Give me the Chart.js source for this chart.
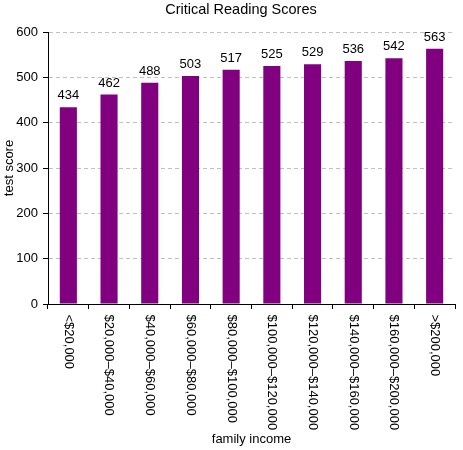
<!DOCTYPE html>
<html><head><meta charset="utf-8">
<script src="https://cdn.jsdelivr.net/npm/chart.js@4.4.1/dist/chart.umd.min.js"></script>
<style>html,body{margin:0;padding:0;background:#fff;} #wrap{width:463px;height:450px;}</style>
</head><body>
<div id="wrap"><canvas id="c" width="463" height="450"></canvas></div>
<script>
const categories = ['<$20,000','$20,000–$40,000','$40,000–$60,000','$60,000–$80,000','$80,000–$100,000','$100,000–$120,000','$120,000–$140,000','$140,000–$160,000','$160,000–$200,000','>$200,000'];
const scores = [434,462,488,503,517,525,529,536,542,563];
const yTicks = [0,100,200,300,400,500,600];
const chartTitle = 'Critical Reading Scores';
const xTitle = 'family income';
const yTitle = 'test score';

const FAMILY = '"Liberation Sans", Arial, sans-serif';
const font13 = {family: FAMILY, size: 13, weight: 'normal'};

const labelPlugin = {
  id: 'customLabels',
  afterDraw(chart) {
    const ctx = chart.ctx;
    const xs = chart.scales.x;
    const meta = chart.getDatasetMeta(0);
    ctx.save();
    ctx.fillStyle = '#000';
    // chart title
    ctx.font = '14.5px ' + FAMILY;
    ctx.textAlign = 'center';
    ctx.textBaseline = 'middle';
    ctx.fillText(chartTitle, 241, 10);
    // value labels
    ctx.font = '13px ' + FAMILY;
    ctx.textAlign = 'center';
    ctx.textBaseline = 'alphabetic';
    meta.data.forEach((bar, i) => {
      ctx.fillText(String(scores[i]), bar.x, bar.y - 8);
    });
    // rotated category labels
    ctx.textAlign = 'left';
    ctx.textBaseline = 'middle';
    categories.forEach((c, i) => {
      const x = xs.getPixelForValue(i);
      ctx.save();
      ctx.translate(x, xs.top + 10.5);
      ctx.rotate(Math.PI / 2);
      ctx.fillText(c, 0, 0);
      ctx.restore();
    });
    ctx.restore();
  }
};

new Chart(document.getElementById('c'), {
  type: 'bar',
  data: {
    labels: categories,
    datasets: [{
      data: scores,
      backgroundColor: '#800080',
      borderWidth: 0,
      inflateAmount: 0,
      barPercentage: 0.42,
      categoryPercentage: 1.0
    }]
  },
  options: {
    responsive: false,
    animation: false,
    devicePixelRatio: 1,
    layout: {padding: {left: 0, right: 8, top: 32, bottom: 0}},
    plugins: {
      legend: {display: false},
      tooltip: {enabled: false},
      title: {display: false}
    },
    scales: {
      x: {
        type: 'category',
        offset: true,
        afterFit: s => { s.height = 146; },
        ticks: {display: false},
        grid: {display: true, drawOnChartArea: false, drawTicks: true, tickLength: 5, tickColor: '#000', offset: true},
        border: {display: true, color: '#000', width: 1},
        title: {display: true, text: xTitle, color: '#000', font: font13, padding: {top: 0, bottom: 3}}
      },
      y: {
        min: yTicks[0],
        max: yTicks[yTicks.length - 1],
        afterBuildTicks: s => { s.ticks = yTicks.map(v => ({value: v})); },
        afterFit: s => { s.width = 48; },
        ticks: {color: '#000', font: font13, padding: 5},
        grid: {
          color: c => (c.tick && c.tick.value === 0) ? 'rgba(0,0,0,0)' : '#c0c0c0',
          tickColor: '#000', tickLength: 5, tickBorderDash: [], lineWidth: 1
        },
        border: {display: true, color: '#000', width: 1, dash: [4, 3]},
        title: {display: true, text: yTitle, color: '#000', font: font13, padding: {top: 1.5, bottom: 0}}
      }
    }
  },
  plugins: [labelPlugin]
});
</script>
</body></html>
